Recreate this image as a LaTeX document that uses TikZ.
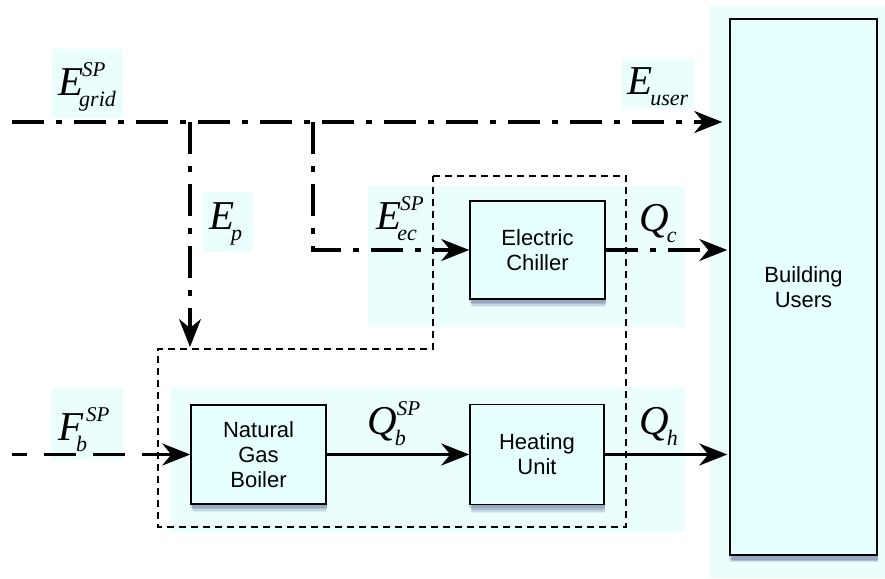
\documentclass[tikz,border=0pt]{standalone}
\usepackage{fontspec}
\setmainfont{Liberation Sans}
\newfontfamily\tms{Liberation Serif}
\usetikzlibrary{arrows.meta,shadows}
\definecolor{panelc}{RGB}{234,254,254}
\definecolor{boxc}{RGB}{230,255,255}
\definecolor{shadc}{RGB}{40,50,110}
\newcommand{\lbl}[5]{{\tms\itshape\fontsize{41}{41}\selectfont #1\rlap{\kern#4\raisebox{19pt}{\fontsize{21}{21}\selectfont #2}}\kern#5\raisebox{-11pt}{\fontsize{22}{22}\selectfont #3}}}
\begin{document}
\begin{tikzpicture}[x=1pt,y=-1pt,
  panel/.style={fill=panelc},
  blk/.style={draw=black, line width=1.5pt, fill=boxc, align=center,
    font=\fontsize{22}{25}\selectfont, inner sep=0pt,
    drop shadow={shadow xshift=1pt, shadow yshift=-9pt, shadow scale=0.99, opacity=0.08, fill=shadc},
    drop shadow={shadow xshift=1pt, shadow yshift=-7pt, opacity=0.12, fill=shadc},
    drop shadow={shadow xshift=0.5pt, shadow yshift=-5pt, opacity=0.16, fill=shadc},
    drop shadow={shadow xshift=0pt, shadow yshift=-3pt, shadow scale=1.01, opacity=0.14, fill=shadc}},
  lab/.style={anchor=base west, inner sep=0pt},
  ddline/.style={line width=3.2pt, dash pattern=on 32pt off 12pt on 6pt off 12pt},
  dline/.style={line width=3.2pt, dash pattern=on 32pt off 17pt, dash phase=17pt},
  sline/.style={line width=3.2pt},
  arr/.style={-{Stealth[length=28pt,width=22pt,inset=9pt]}},
  bound/.style={line width=1.5pt, dash pattern=on 7pt off 5pt}
]
\useasboundingbox (0,0) rectangle (885,578);
% panels
\fill[panel] (710,6) rectangle (885,578);
\fill[panel] (368,186) rectangle (685,327);
\fill[panel] (171,387) rectangle (685,532);
% label backgrounds
\fill[panel] (52,49) rectangle (123,118);
\fill[panel] (622,59) rectangle (694,109);
\fill[panel] (203,192) rectangle (253,252);
\fill[panel] (51,389) rectangle (123,460);
% system boundary
\draw[bound] (433,176) -- (626,176) -- (626,527) -- (158,527) -- (158,349) -- (433,349) -- cycle;
% blocks
\node[blk, minimum width=135pt, minimum height=98pt] (chiller) at (537.5,250) {Electric\\Chiller};
\node[blk, minimum width=135pt, minimum height=99pt] (boiler) at (258.5,454.5) {Natural\\Gas\\Boiler};
\node[blk, minimum width=134pt, minimum height=100pt] (heating) at (537,454.5) {Heating\\Unit};
\node[blk, minimum width=147pt, minimum height=536pt] (users) at (803.5,287) {Building\\Users};
% coordinates
\coordinate (gridin) at (12,122);
\coordinate (j1) at (190,122);
\coordinate (j2) at (313,122);
\coordinate (ep) at (190,347);
\coordinate (fin) at (12,454.5);
% connectors
\draw[ddline, arr, shorten >=7pt] (gridin) -- (users.west |- gridin);
\draw[ddline, arr] (j1) -- (ep);
\draw[ddline, arr] (j2) |- (chiller.west);
\draw[ddline, arr, shorten >=2pt] (chiller.east) -- (users.west |- chiller.east);
\draw[dline, arr] (fin) -- (boiler.west);
\draw[sline, arr] (boiler.east) -- (heating.west);
\draw[sline, arr, shorten >=2pt] (heating.east) -- (users.west |- heating.east);
% labels
\node[lab] (lgrid) at (58,95) {\lbl{E}{SP}{grid}{-1pt}{-4pt}};
\node[lab] (luser) at (627,94) {\lbl{E}{}{user}{0pt}{-2pt}};
\node[lab] (lp) at (209,229) {\lbl{E}{}{p}{0pt}{-3pt}};
\node[lab] (lec) at (376,229) {\lbl{E}{SP}{ec}{-1pt}{-4pt}};
\node[lab] (lqc) at (639,231) {\lbl{Q}{}{c}{0pt}{-2pt}};
\node[lab] (lqb) at (367,434) {\lbl{Q}{SP}{b}{0pt}{-2pt}};
\node[lab] (lqh) at (639,434) {\lbl{Q}{}{h}{0pt}{-2pt}};
\node[lab] (lfb) at (58,440) {\lbl{F}{SP}{b}{3pt}{-7pt}};
\end{tikzpicture}
\end{document}
